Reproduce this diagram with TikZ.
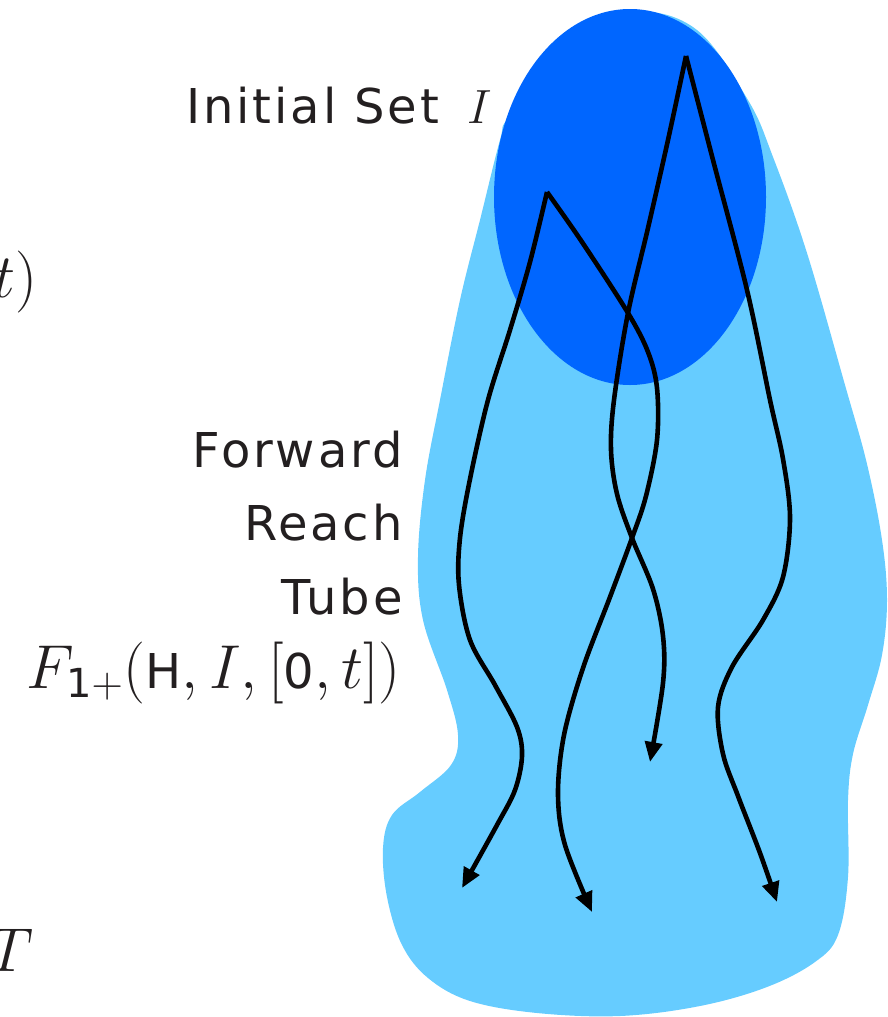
\RequirePackage{fix-cm}
\documentclass[tikz,border=0pt]{standalone}
\usepackage{fontspec}
\setmainfont{DejaVu Sans}[LetterSpace=6]
\usetikzlibrary{arrows.meta}
\definecolor{tubeblue}{HTML}{66CCFF}
\definecolor{initblue}{HTML}{0066FF}
\definecolor{ink}{HTML}{231F20}
\newcommand\sfmath[2]{\hbox{\fontsize{#1}{#1}\selectfont #2}}
\begin{document}
\begin{tikzpicture}[x=0.5pt,y=-0.5pt,
  lbl/.style={anchor=base east, inner sep=0pt, text=ink, font=\fontsize{24}{29}\selectfont},
  mlbl/.style={anchor=base east, inner sep=0pt, text=ink, font=\fontsize{31}{37}\selectfont},
  traj/.style={line width=2.3pt, draw=black, -{Triangle[length=10pt,width=8.5pt]}},
  smoothpath/.style={smooth, tension=0.55}]
\useasboundingbox (0,0) rectangle (888,1017);
% reach tube
\fill[tubeblue] plot[smooth cycle, tension=0.6] coordinates {
 (635,12) (697,30) (748,100) (773,157) (807,253) (845,385) (867,464) (882,540)
 (887,600) (882,655) (868,705) (853,754) (848,800) (848,877) (838,935) (815,962)
 (767,987) (700,1006) (620,1016) (537,1013) (470,1001) (428,978) (402,945)
 (387,897) (383,848) (392,815) (420,792) (451,765) (458,735) (447,690) (423,620)
 (418,557) (425,480) (440,400) (460,300) (480,220) (500,140) (510,115) (570,40)};
% initial set
\fill[initblue] (630,197) ellipse [x radius=68pt, y radius=94pt];
% trajectory start points
\coordinate (p1) at (686,56);
\coordinate (p2) at (547,192);
\coordinate (ea) at (462,888);
\coordinate (eb) at (592,912);
\coordinate (ec) at (650,762);
\coordinate (ed) at (777,902);
% trajectories
\draw[traj] plot[smoothpath] coordinates {(p2) (530,262) (510,330) (488,400) (470,479)
  (460,538) (459,585) (470,640) (495,685) (517,727) (522,756) (515,790) (497,825) (ea)};
\draw[traj] plot[smoothpath] coordinates {(p2) (582,242) (628,313) (648,352) (657,388)
  (657,440) (646,496) (632,538) (610,597) (583,668) (564,735) (558,794) (565,845) (eb)};
\draw[traj] plot[smoothpath] coordinates {(p1) (668,140) (648,228) (628,313) (614,400)
  (611,450) (617,494) (632,538) (653,589) (663,636) (663,683) (ec)};
\draw[traj] plot[smoothpath] coordinates {(p1) (713,160) (747,290) (770,400) (783,459)
  (790,518) (783,577) (763,620) (732,667) (718,707) (723,754) (738,796) (760,853) (ed)};
% labels
\node[lbl] (init) at (492,123) {Initial Set\hspace{14pt}$I$};
\node[lbl] (fwd) at (403,467) {Forward};
\node[lbl] (reach) at (403,540) {Reach};
\node[lbl] (tube) at (403,614) {Tube};
\node[mlbl] (frt) at (401,688) {$F_{\sfmath{20pt}{1}+}(\sfmath{24pt}{H},I,[\sfmath{24pt}{0},t])$};
\node[mlbl] (tl) at (38,297) {$t)$};
\node[mlbl] (Tl) at (34,971) {$T$};
\end{tikzpicture}
\end{document}
